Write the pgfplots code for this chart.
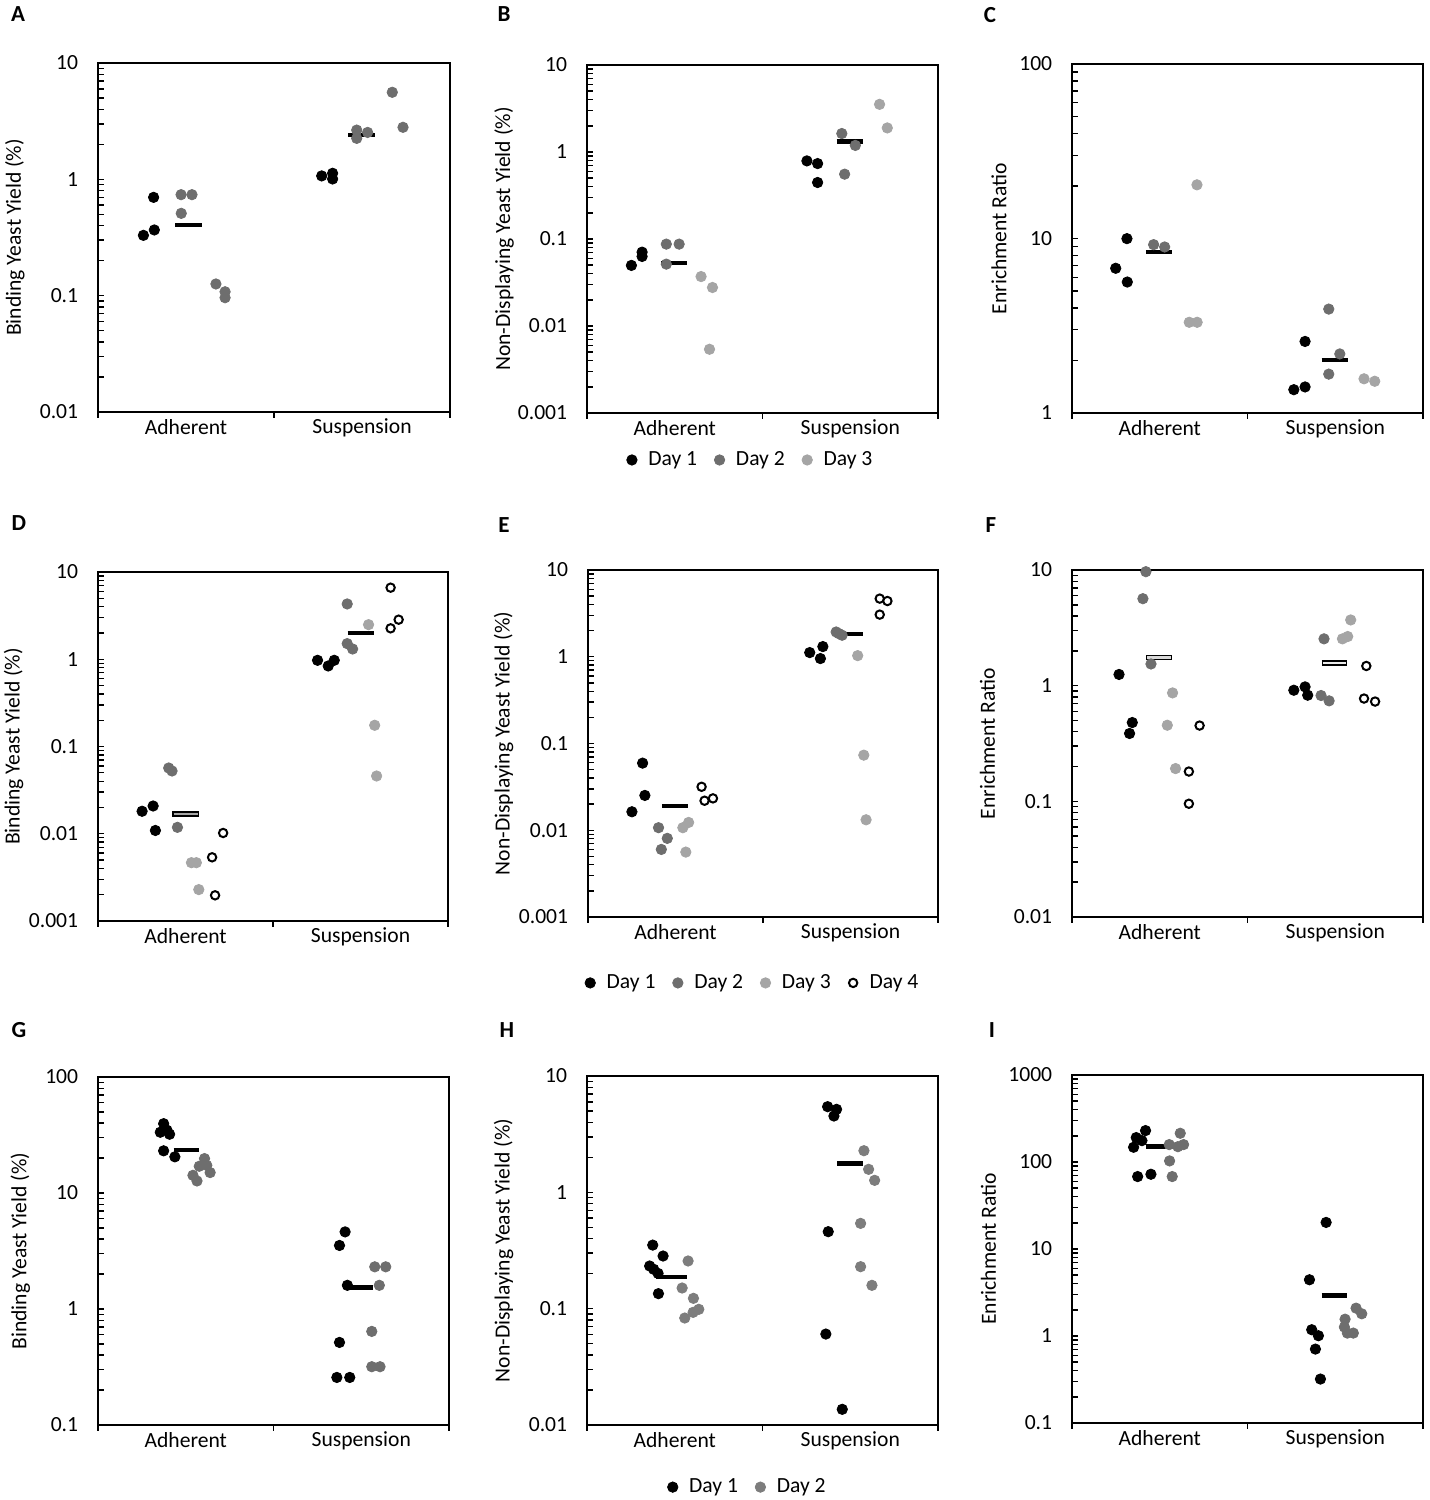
\documentclass[border=0pt]{standalone}
\usepackage{pgfplots}
\pgfplotsset{compat=1.18}
\usepackage{fontspec}
\setmainfont{Carlito}
\definecolor{dtwo}{RGB}{110,110,110}
\definecolor{dthree}{RGB}{165,165,165}
\definecolor{dtwoh}{RGB}{125,125,125}
\newcommand{\fsz}{\fontsize{10.8}{13}\selectfont}
\newcommand{\divticks}{%
  \draw[line width=0.8pt] (rel axis cs:0,0) -- ([yshift=-3pt]rel axis cs:0,0);
  \draw[line width=0.8pt] (rel axis cs:0.5,0) -- ([yshift=-3pt]rel axis cs:0.5,0);
  \draw[line width=0.8pt] (rel axis cs:1,0) -- ([yshift=-3pt]rel axis cs:1,0);}
\begin{document}
\begin{tikzpicture}
\useasboundingbox (0,0) rectangle (715pt,750pt);
\node[font=\bfseries\fontsize{11.5}{13}\selectfont] at (9pt,743pt) {A};
\node[font=\bfseries\fontsize{11.5}{13}\selectfont] at (252pt,743pt) {B};
\node[font=\bfseries\fontsize{11.5}{13}\selectfont] at (495pt,742.5pt) {C};
\node[font=\bfseries\fontsize{11.5}{13}\selectfont] at (9.5pt,488.5pt) {D};
\node[font=\bfseries\fontsize{11.5}{13}\selectfont] at (252pt,487.5pt) {E};
\node[font=\bfseries\fontsize{11.5}{13}\selectfont] at (495.5pt,487.5pt) {F};
\node[font=\bfseries\fontsize{11.5}{13}\selectfont] at (9.5pt,235pt) {G};
\node[font=\bfseries\fontsize{11.5}{13}\selectfont] at (253.5pt,235pt) {H};
\node[font=\bfseries\fontsize{11.5}{13}\selectfont] at (496pt,235pt) {I};

% ---------------- A
\begin{axis}[scale only axis, ymode=log, xmin=0, xmax=2, anchor=south west, clip=false,
  axis line style={line width=1pt},
  xtick={0.5,1.5}, xticklabels={Adherent,Suspension}, xtick style={draw=none},
  ytick pos=left, tick align=inside, major tick length=3pt, minor tick length=3pt,
  ytick style={black, line width=0.7pt},
  tick label style={font=\fsz}, yticklabel style={xshift=-6.4pt}, label style={font=\fsz},
  at={(49pt,544pt)}, width=176pt, height=174.5pt,
  ymin=0.01, ymax=10, ytick={0.01,0.1,1,10}, yticklabels={0.01,0.1,1,10},
  minor ytick={0.02,0.03,0.04,0.05,0.06,0.07,0.08,0.09,0.2,0.3,0.4,0.5,0.6,0.7,0.8,0.9,2,3,4,5,6,7,8,9},
  ylabel={Binding Yeast Yield (\%)},
  ylabel style={at={(axis description cs:-0.236,0.5)},anchor=center}]
\addplot[only marks, mark=*, mark size=2.6pt, black] coordinates {(0.258,0.33) (0.320,0.367) (0.316,0.70) (1.271,1.07) (1.333,1.127) (1.333,1.007)};
\addplot[only marks, mark=*, mark size=2.6pt, dtwo] coordinates {(0.472,0.738) (0.534,0.738) (0.473,0.51) (1.470,2.65) (1.470,2.25) (1.532,2.53)};
\addplot[only marks, mark=*, mark size=2.6pt, dtwo] coordinates {(0.670,0.126) (0.722,0.108) (0.722,0.096) (1.672,5.6) (1.733,2.8)};
\addplot[forget plot, black, line width=2.2pt] coordinates {(0.439,0.407) (0.591,0.407)};
\addplot[forget plot, black, line width=2.2pt] coordinates {(1.422,2.40) (1.574,2.40)};
\divticks
\end{axis}

% ---------------- B
\begin{axis}[scale only axis, ymode=log, xmin=0, xmax=2, anchor=south west, clip=false,
  axis line style={line width=1pt},
  xtick={0.5,1.5}, xticklabels={Adherent,Suspension}, xtick style={draw=none},
  ytick pos=left, tick align=inside, major tick length=3pt, minor tick length=3pt,
  ytick style={black, line width=0.7pt},
  tick label style={font=\fsz}, yticklabel style={xshift=-6.4pt}, label style={font=\fsz},
  at={(293.5pt,543.5pt)}, width=175.5pt, height=174pt,
  ymin=0.001, ymax=10, ytick={0.001,0.01,0.1,1,10}, yticklabels={0.001,0.01,0.1,1,10},
  minor ytick={0.002,0.003,0.004,0.005,0.006,0.007,0.008,0.009,0.02,0.03,0.04,0.05,0.06,0.07,0.08,0.09,0.2,0.3,0.4,0.5,0.6,0.7,0.8,0.9,2,3,4,5,6,7,8,9},
  ylabel={Non-Displaying Yeast Yield (\%)},
  ylabel style={at={(axis description cs:-0.236,0.5)},anchor=center},
  legend style={font=\fsz, draw=none, fill=none, legend columns=-1, anchor=center, at={(0.4615,-0.135)},
    /tikz/every even column/.append style={column sep=4pt}},
  legend image code/.code={\path (0pt,0pt) (11pt,0pt); \draw[#1] plot coordinates {(5pt,0pt)};}]
\addplot[only marks, mark=*, mark size=2.6pt, black] coordinates {(0.253,0.0497) (0.314,0.063) (0.314,0.0706) (1.253,0.79) (1.314,0.736) (1.314,0.446)};
\addplot[only marks, mark=*, mark size=2.6pt, dtwo] coordinates {(0.452,0.0873) (0.525,0.0873) (0.452,0.0514) (1.452,1.63) (1.468,0.556) (1.529,1.19)};
\addplot[only marks, mark=*, mark size=2.6pt, dthree] coordinates {(0.650,0.037) (0.715,0.0277) (0.698,0.0054) (1.667,3.53) (1.711,1.89)};
\addplot[forget plot, black, line width=2.2pt] coordinates {(0.424,0.0528) (0.570,0.0528)};
\addplot[forget plot, black, line width=2.2pt] coordinates {(1.422,1.32) (1.574,1.32)};
\divticks
\legend{Day 1,Day 2,Day 3}
\end{axis}

% ---------------- C
\begin{axis}[scale only axis, ymode=log, xmin=0, xmax=2, anchor=south west, clip=false,
  axis line style={line width=1pt},
  xtick={0.5,1.5}, xticklabels={Adherent,Suspension}, xtick style={draw=none},
  ytick pos=left, tick align=inside, major tick length=3pt, minor tick length=3pt,
  ytick style={black, line width=0.7pt},
  tick label style={font=\fsz}, yticklabel style={xshift=-6.4pt}, label style={font=\fsz},
  at={(536pt,543.5pt)}, width=175.5pt, height=174.5pt,
  ymin=1, ymax=100, ytick={1,10,100}, yticklabels={1,10,100},
  minor ytick={2,3,4,5,6,7,8,9,20,30,40,50,60,70,80,90},
  ylabel={Enrichment Ratio},
  ylabel style={at={(axis description cs:-0.208,0.5)},anchor=center}]
\addplot[only marks, mark=*, mark size=2.6pt, black] coordinates {(0.249,6.75) (0.313,9.98) (0.315,5.63) (1.264,1.36) (1.328,1.41) (1.328,2.57)};
\addplot[only marks, mark=*, mark size=2.6pt, dtwo] coordinates {(0.465,9.22) (0.528,8.94) (1.463,3.94) (1.526,2.18) (1.463,1.67)};
\addplot[only marks, mark=*, mark size=2.6pt, dthree] coordinates {(0.712,20.3) (0.668,3.31) (0.713,3.31) (1.664,1.57) (1.725,1.52)};
\addplot[forget plot, black, line width=2.2pt] coordinates {(0.421,8.37) (0.571,8.37)};
\addplot[forget plot, black, line width=2.2pt] coordinates {(1.423,2.02) (1.575,2.02)};
\divticks
\end{axis}

% ---------------- D
\begin{axis}[scale only axis, ymode=log, xmin=0, xmax=2, anchor=south west, clip=false,
  axis line style={line width=1pt},
  xtick={0.5,1.5}, xticklabels={Adherent,Suspension}, xtick style={draw=none},
  ytick pos=left, tick align=inside, major tick length=3pt, minor tick length=3pt,
  ytick style={black, line width=0.7pt},
  tick label style={font=\fsz}, yticklabel style={xshift=-6.4pt}, label style={font=\fsz},
  at={(49pt,289.5pt)}, width=175pt, height=174.5pt,
  ymin=0.001, ymax=10, ytick={0.001,0.01,0.1,1,10}, yticklabels={0.001,0.01,0.1,1,10},
  minor ytick={0.002,0.003,0.004,0.005,0.006,0.007,0.008,0.009,0.02,0.03,0.04,0.05,0.06,0.07,0.08,0.09,0.2,0.3,0.4,0.5,0.6,0.7,0.8,0.9,2,3,4,5,6,7,8,9},
  ylabel={Binding Yeast Yield (\%)},
  ylabel style={at={(axis description cs:-0.241,0.5)},anchor=center}]
\addplot[only marks, mark=*, mark size=2.6pt, black] coordinates {(0.252,0.0181) (0.315,0.0208) (0.328,0.0109) (1.2545,0.972) (1.3155,0.837) (1.350,0.972)};
\addplot[only marks, mark=*, mark size=2.6pt, dtwo] coordinates {(0.404,0.0567) (0.423,0.0524) (0.454,0.01184) (1.424,4.30) (1.424,1.51) (1.455,1.31)};
\addplot[only marks, mark=*, mark size=2.6pt, dthree] coordinates {(0.534,0.00466) (0.562,0.00466) (0.576,0.00229) (1.546,2.49) (1.581,0.175) (1.592,0.0459)};
\addplot[only marks, mark=*, mark size=2.1pt, black, mark options={fill=white, line width=1pt}] coordinates {(0.715,0.0102) (0.652,0.00537) (0.669,0.00197) (1.672,6.61) (1.672,2.26) (1.718,2.84)};
\addplot[forget plot, black, line width=2.9pt] coordinates {(0.425,0.01684) (0.576,0.01684)};
\addplot[forget plot, dthree, line width=1.1pt] coordinates {(0.432,0.01684) (0.569,0.01684)};
\addplot[forget plot, black, line width=2.2pt] coordinates {(1.426,2.00) (1.577,2.00)};
\divticks
\end{axis}

% ---------------- E
\begin{axis}[scale only axis, ymode=log, xmin=0, xmax=2, anchor=south west, clip=false,
  axis line style={line width=1pt},
  xtick={0.5,1.5}, xticklabels={Adherent,Suspension}, xtick style={draw=none},
  ytick pos=left, tick align=inside, major tick length=3pt, minor tick length=3pt,
  ytick style={black, line width=0.7pt},
  tick label style={font=\fsz}, yticklabel style={xshift=-6.4pt}, label style={font=\fsz},
  at={(294pt,291.5pt)}, width=175pt, height=173.5pt,
  ymin=0.001, ymax=10, ytick={0.001,0.01,0.1,1,10}, yticklabels={0.001,0.01,0.1,1,10},
  minor ytick={0.002,0.003,0.004,0.005,0.006,0.007,0.008,0.009,0.02,0.03,0.04,0.05,0.06,0.07,0.08,0.09,0.2,0.3,0.4,0.5,0.6,0.7,0.8,0.9,2,3,4,5,6,7,8,9},
  ylabel={Non-Displaying Yeast Yield (\%)},
  ylabel style={at={(axis description cs:-0.241,0.5)},anchor=center},
  legend style={font=\fsz, draw=none, fill=none, legend columns=-1, anchor=center, at={(0.466,-0.19)},
    /tikz/every even column/.append style={column sep=4pt}},
  legend image code/.code={\path (0pt,0pt) (11pt,0pt); \draw[#1] plot coordinates {(5pt,0pt)};}]
\addplot[only marks, mark=*, mark size=2.6pt, black] coordinates {(0.251,0.01633) (0.312,0.0594) (0.325,0.0252) (1.267,1.117) (1.328,0.953) (1.342,1.31)};
\addplot[only marks, mark=*, mark size=2.6pt, dtwo] coordinates {(0.403,0.0107) (0.453,0.00806) (0.419,0.00601) (1.418,1.93) (1.433,1.85) (1.452,1.77)};
\addplot[only marks, mark=*, mark size=2.6pt, dthree] coordinates {(0.542,0.0107) (0.575,0.0123) (0.559,0.0056) (1.541,1.03) (1.576,0.0734) (1.589,0.0132)};
\addplot[only marks, mark=*, mark size=2.1pt, black, mark options={fill=white, line width=1pt}] coordinates {(0.649,0.0317) (0.666,0.0219) (0.714,0.0233) (1.667,4.68) (1.711,4.39) (1.667,3.06)};
\addplot[forget plot, black, line width=2.2pt] coordinates {(0.422,0.0191) (0.569,0.0191)};
\addplot[forget plot, black, line width=2.2pt] coordinates {(1.425,1.83) (1.574,1.83)};
\divticks
\legend{Day 1,Day 2,Day 3,Day 4}
\end{axis}

% ---------------- F
\begin{axis}[scale only axis, ymode=log, xmin=0, xmax=2, anchor=south west, clip=false,
  axis line style={line width=1pt},
  xtick={0.5,1.5}, xticklabels={Adherent,Suspension}, xtick style={draw=none},
  ytick pos=left, tick align=inside, major tick length=3pt, minor tick length=3pt,
  ytick style={black, line width=0.7pt},
  tick label style={font=\fsz}, yticklabel style={xshift=-6.4pt}, label style={font=\fsz},
  at={(536pt,291.5pt)}, width=175.5pt, height=173.5pt,
  ymin=0.01, ymax=10, ytick={0.01,0.1,1,10}, yticklabels={0.01,0.1,1,10},
  minor ytick={0.02,0.03,0.04,0.05,0.06,0.07,0.08,0.09,0.2,0.3,0.4,0.5,0.6,0.7,0.8,0.9,2,3,4,5,6,7,8,9},
  ylabel={Enrichment Ratio},
  ylabel style={at={(axis description cs:-0.241,0.5)},anchor=center}]
\addplot[only marks, mark=*, mark size=2.6pt, black] coordinates {(0.268,1.25) (0.3435,0.480) (0.328,0.386) (1.264,0.913) (1.328,0.976) (1.343,0.827)};
\addplot[only marks, mark=*, mark size=2.6pt, dtwo] coordinates {(0.421,9.67) (0.404,5.65) (0.450,1.54) (1.436,2.54) (1.419,0.822) (1.465,0.739)};
\addplot[only marks, mark=*, mark size=2.6pt, dthree] coordinates {(0.573,0.866) (0.543,0.455) (0.590,0.192) (1.588,3.70) (1.541,2.54) (1.571,2.66)};
\addplot[only marks, mark=*, mark size=2.1pt, black, mark options={fill=white, line width=1pt}] coordinates {(0.727,0.452) (0.666,0.181) (0.666,0.0953) (1.677,1.48) (1.664,0.774) (1.727,0.729)};
\addplot[forget plot, black, line width=2.9pt] coordinates {(0.423,1.75) (0.571,1.75)};
\addplot[forget plot, black!15, line width=1.1pt] coordinates {(0.430,1.75) (0.564,1.75)};
\addplot[forget plot, black, line width=2.9pt] coordinates {(1.423,1.56) (1.569,1.56)};
\addplot[forget plot, black!8, line width=1.1pt] coordinates {(1.430,1.56) (1.562,1.56)};
\divticks
\end{axis}

% ---------------- G
\begin{axis}[scale only axis, ymode=log, xmin=0, xmax=2, anchor=south west, clip=false,
  axis line style={line width=1pt},
  xtick={0.5,1.5}, xticklabels={Adherent,Suspension}, xtick style={draw=none},
  ytick pos=left, tick align=inside, major tick length=3pt, minor tick length=3pt,
  ytick style={black, line width=0.7pt},
  tick label style={font=\fsz}, yticklabel style={xshift=-6.4pt}, label style={font=\fsz},
  at={(49pt,37.5pt)}, width=175.5pt, height=174pt,
  ymin=0.1, ymax=100, ytick={0.1,1,10,100}, yticklabels={0.1,1,10,100},
  minor ytick={0.2,0.3,0.4,0.5,0.6,0.7,0.8,0.9,2,3,4,5,6,7,8,9,20,30,40,50,60,70,80,90},
  ylabel={Binding Yeast Yield (\%)},
  ylabel style={at={(axis description cs:-0.221,0.5)},anchor=center}]
\addplot[only marks, mark=*, mark size=2.6pt, black] coordinates {(0.374,39.6) (0.355,33.4) (0.393,34.8) (0.408,32.1) (0.374,23.1) (0.438,20.5) (1.408,4.62) (1.376,3.53) (1.421,1.60) (1.376,0.515) (1.361,0.257) (1.4345,0.257)};
\addplot[only marks, mark=*, mark size=2.6pt, dtwo] coordinates {(0.607,19.8) (0.577,17.0) (0.620,17.3) (0.541,14.2) (0.564,12.7) (0.639,15.0) (1.577,2.31) (1.6395,2.31) (1.603,1.60) (1.560,0.641) (1.560,0.318) (1.607,0.318)};
\addplot[forget plot, black, line width=2.2pt] coordinates {(0.431,23.4) (0.577,23.4)};
\addplot[forget plot, black, line width=2.2pt] coordinates {(1.421,1.53) (1.569,1.53)};
\divticks
\end{axis}

% ---------------- H
\begin{axis}[scale only axis, ymode=log, xmin=0, xmax=2, anchor=south west, clip=false,
  axis line style={line width=1pt},
  xtick={0.5,1.5}, xticklabels={Adherent,Suspension}, xtick style={draw=none},
  ytick pos=left, tick align=inside, major tick length=3pt, minor tick length=3pt,
  ytick style={black, line width=0.7pt},
  tick label style={font=\fsz}, yticklabel style={xshift=-6.4pt}, label style={font=\fsz},
  at={(293.5pt,37.5pt)}, width=175.5pt, height=174.5pt,
  ymin=0.01, ymax=10, ytick={0.01,0.1,1,10}, yticklabels={0.01,0.1,1,10},
  minor ytick={0.02,0.03,0.04,0.05,0.06,0.07,0.08,0.09,0.2,0.3,0.4,0.5,0.6,0.7,0.8,0.9,2,3,4,5,6,7,8,9},
  ylabel={Non-Displaying Yeast Yield (\%)},
  ylabel style={at={(axis description cs:-0.238,0.5)},anchor=center},
  legend style={font=\fsz, draw=none, fill=none, legend columns=-1, anchor=center, at={(0.453,-0.178)},
    /tikz/every even column/.append style={column sep=4pt}},
  legend image code/.code={\path (0pt,0pt) (11pt,0pt); \draw[#1] plot coordinates {(5pt,0pt)};}]
\addplot[only marks, mark=*, mark size=2.6pt, black] coordinates {(0.3745,0.352) (0.4335,0.2836) (0.357,0.2327) (0.380,0.218) (0.405,0.201) (0.407,0.1346) (1.371,5.45) (1.422,5.17) (1.407,4.53) (1.3745,0.459) (1.361,0.0605) (1.4544,0.01364)};
\addplot[only marks, mark=*, mark size=2.6pt, dtwoh] coordinates {(0.576,0.257) (0.542,0.1505) (0.6065,0.1227) (0.557,0.0831) (0.6046,0.093) (0.637,0.0987) (1.578,2.28) (1.6046,1.577) (1.639,1.268) (1.559,0.541) (1.559,0.2296) (1.6236,0.1587)};
\addplot[forget plot, black, line width=2.2pt] coordinates {(0.395,0.188) (0.570,0.188)};
\addplot[forget plot, black, line width=2.2pt] coordinates {(1.426,1.764) (1.574,1.764)};
\divticks
\legend{Day 1,Day 2}
\end{axis}

% ---------------- I
\begin{axis}[scale only axis, ymode=log, xmin=0, xmax=2, anchor=south west, clip=false,
  axis line style={line width=1pt},
  xtick={0.5,1.5}, xticklabels={Adherent,Suspension}, xtick style={draw=none},
  ytick pos=left, tick align=inside, major tick length=3pt, minor tick length=3pt,
  ytick style={black, line width=0.7pt},
  tick label style={font=\fsz}, yticklabel style={xshift=-6.4pt}, label style={font=\fsz},
  at={(536pt,38.5pt)}, width=175.5pt, height=174pt,
  ymin=0.1, ymax=1000, ytick={0.1,1,10,100,1000}, yticklabels={0.1,1,10,100,1000},
  minor ytick={0.2,0.3,0.4,0.5,0.6,0.7,0.8,0.9,2,3,4,5,6,7,8,9,20,30,40,50,60,70,80,90,200,300,400,500,600,700,800,900},
  ylabel={Enrichment Ratio},
  ylabel style={at={(axis description cs:-0.238,0.5)},anchor=center}]
\addplot[only marks, mark=*, mark size=2.6pt, black] coordinates {(0.419,229.6) (0.366,190.8) (0.3985,176) (0.351,147.7) (0.374,68) (0.4497,72.3) (1.448,20.2) (1.353,4.43) (1.366,1.18) (1.404,1.007) (1.387,0.707) (1.4156,0.32)};
\addplot[only marks, mark=*, mark size=2.6pt, dtwo] coordinates {(0.6167,213.9) (0.554,158.5) (0.6034,150) (0.6357,158.5) (0.556,102.9) (0.571,68) (1.6186,2.09) (1.651,1.80) (1.556,1.56) (1.552,1.266) (1.569,1.08) (1.603,1.08)};
\addplot[forget plot, black, line width=2.2pt] coordinates {(0.421,150) (0.569,150)};
\addplot[forget plot, black, line width=2.2pt] coordinates {(1.423,2.92) (1.569,2.92)};
\divticks
\end{axis}
\end{tikzpicture}
\end{document}
